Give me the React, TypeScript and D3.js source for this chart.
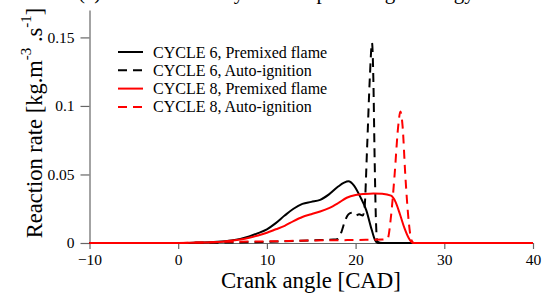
import React, { useEffect, useRef } from "react";
import * as d3 from "d3";

// crank angle [CAD] / reaction rate [kg.m-3.s-1]
const c6PremixedX = [-10, 0, 2, 4, 6, 7, 8, 9, 10, 11, 12, 13, 14, 15, 16, 17, 18, 18.7, 19.2, 19.8, 20.5, 21.2, 21.8, 22.2, 22.5, 30, 40];
const c6PremixedY = [0, 0, 0.0003, 0.0008, 0.0018, 0.003, 0.0048, 0.0072, 0.01, 0.0145, 0.02, 0.025, 0.0285, 0.03, 0.0315, 0.0355, 0.041, 0.044, 0.045, 0.042, 0.034, 0.024, 0.01, 0.002, 0, 0, 0];

const c6AutoX = [-10, 0, 5, 10, 13, 16, 17.5, 18, 18.4, 18.8, 19.2, 19.6, 20, 20.4, 20.8, 21, 21.3, 21.6, 21.85, 22, 22.15, 22.3, 22.45, 23, 40];
const c6AutoY = [0, 0, 0.0003, 0.0008, 0.0015, 0.0022, 0.0025, 0.003, 0.008, 0.016, 0.021, 0.022, 0.02, 0.021, 0.02, 0.025, 0.07, 0.12, 0.146, 0.12, 0.06, 0.015, 0.001, 0, 0];

const c8PremixedX = [-10, 0, 3, 5, 7, 8, 9, 10, 11, 12, 13, 14, 15, 16, 17, 18, 19, 20, 21, 22, 23, 24, 24.5, 25, 25.5, 26, 26.5, 30, 40];
const c8PremixedY = [0, 0, 0.0003, 0.001, 0.0025, 0.0038, 0.0055, 0.0075, 0.01, 0.0125, 0.016, 0.019, 0.021, 0.023, 0.0255, 0.029, 0.033, 0.035, 0.0358, 0.0362, 0.036, 0.0345, 0.03, 0.021, 0.011, 0.0035, 0, 0, 0];

const c8AutoX = [-10, 0, 2, 5, 10, 15, 20, 23, 23.6, 24, 24.4, 24.8, 25.05, 25.3, 25.6, 26, 26.3, 26.6, 40];
const c8AutoY = [0, 0, 0.0003, 0.0008, 0.0012, 0.0018, 0.0022, 0.0025, 0.003, 0.02, 0.05, 0.085, 0.096, 0.085, 0.05, 0.015, 0.002, 0, 0];

const legendLabels = ["CYCLE 6, Premixed flame", "CYCLE 6, Auto-ignition", "CYCLE 8, Premixed flame", "CYCLE 8, Auto-ignition"];
const xTicks = [-10, 0, 10, 20, 30, 40];
const yTicks = [0, 0.05, 0.1, 0.15];

const W = 544, H = 297;
const FONT = "'Liberation Serif', 'Times New Roman', 'DejaVu Serif', serif";

export default function App() {
  const ref = useRef<SVGSVGElement>(null);

  useEffect(() => {
    const svg = d3.select(ref.current);
    svg.selectAll("*").remove();
    svg.style("font-family", FONT);

    const x = d3.scaleLinear().domain([-10, 40]).range([89.5, 533]);
    const y = d3.scaleLinear().domain([0, 0.17]).range([243, 10]);

    // title, mostly above the top edge as in the original
    svg.append("text")
      .attr("x", 78).attr("y", -1)
      .style("font-family", FONT).attr("font-size", 21)
      .text("(a) Reaction rate by the compressed gas energy");

    const series = [
      { xs: c6PremixedX, ys: c6PremixedY, color: "#000", dash: null },
      { xs: c6AutoX, ys: c6AutoY, color: "#000", dash: "9,6" },
      { xs: c8PremixedX, ys: c8PremixedY, color: "#ff0000", dash: null },
      { xs: c8AutoX, ys: c8AutoY, color: "#ff0000", dash: "9,6" },
    ];

    const line = d3.line<[number, number]>()
      .x(d => x(d[0]))
      .y(d => y(d[1]))
      .curve(d3.curveMonotoneX);

    // axes
    const yAxis = svg.append("g")
      .attr("transform", "translate(89.5,0)")
      .call(d3.axisLeft(y).tickValues(yTicks).tickSize(9).tickSizeOuter(0).tickPadding(6).tickFormat(d3.format("")));
    const xAxis = svg.append("g")
      .attr("transform", "translate(0,243)")
      .call(d3.axisBottom(x).tickValues(xTicks).tickSize(6).tickSizeOuter(0).tickPadding(5));
    [yAxis, xAxis].forEach(a => {
      a.attr("font-family", null).style("font-family", FONT);
      a.selectAll("path, line").attr("stroke", "#666").attr("stroke-width", 1.2);
      a.selectAll("text").style("font-family", FONT).attr("font-size", 15.5).attr("fill", "#000");
    });

    series.forEach(s => {
      const pts = s.xs.map((v, i) => [v, s.ys[i]] as [number, number]);
      svg.append("path")
        .datum(pts)
        .attr("d", line)
        .attr("fill", "none")
        .attr("stroke", s.color)
        .attr("stroke-width", 2)
        .attr("stroke-dasharray", s.dash);
    });

    // legend
    const lg = svg.append("g").attr("transform", "translate(118,52)");
    series.forEach((s, i) => {
      const row = lg.append("g").attr("transform", `translate(0,${i * 18.3})`);
      row.append("line")
        .attr("x1", 0).attr("x2", 25).attr("y1", 0).attr("y2", 0)
        .attr("stroke", s.color).attr("stroke-width", 2)
        .attr("stroke-dasharray", s.dash);
      row.append("text")
        .attr("x", 35).attr("y", 5.5)
        .style("font-family", FONT).attr("font-size", 16)
        .text(legendLabels[i]);
    });

    // axis titles
    svg.append("text")
      .attr("x", 311).attr("y", 288)
      .attr("text-anchor", "middle")
      .style("font-family", FONT).attr("font-size", 22.8)
      .text("Crank angle [CAD]");

    const yt = svg.append("text")
      .attr("transform", "translate(42,123) rotate(-90)")
      .attr("text-anchor", "middle")
      .style("font-family", FONT).attr("font-size", 22.5);
    yt.append("tspan").text("Reaction rate [kg.m");
    yt.append("tspan").attr("font-size", 15).attr("dy", -11).text("-3");
    yt.append("tspan").attr("dy", 11).text(" .s");
    yt.append("tspan").attr("font-size", 15).attr("dy", -11).text("-1");
    yt.append("tspan").attr("dy", 11).text("]");
  }, []);

  return (
    <svg ref={ref} width={W} height={H}
      style={{ position: "absolute", left: 0, top: 0, background: "#fff" }} />
  );
}
